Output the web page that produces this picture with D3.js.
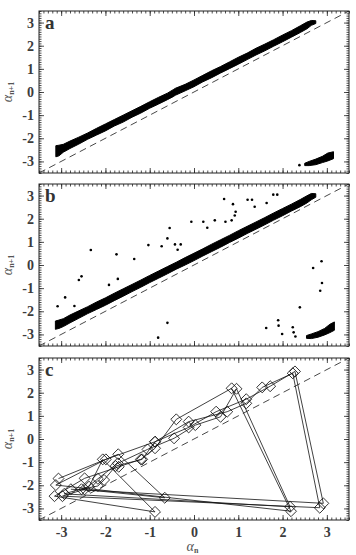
<!DOCTYPE html>
<html><head><meta charset="utf-8">
<script src="https://cdn.jsdelivr.net/npm/d3@7"></script>
<style>body{margin:0;background:#fff}svg{display:block}</style>
</head><body>
<script>
// ---------- data ----------
const majorTicks = [-3,-2,-1,0,1,2,3];
const tickLabels = ["-3","-2","-1","0","1","2","3"];
const panelLetters = ["a","b","c"];

// panel a: dense band (upper / lower edge)
const bandA_x  = [-3.12,-3.05,-2.95,-2.8,-2.6,-2.4,-2.2,-2.0,-1.8,-1.6,-1.4,-1.2,-1.0,-0.8,-0.6,-0.47,-0.42,-0.2,0,0.2,0.4,0.6,0.8,1.0,1.2,1.4,1.6,1.8,2.0,2.2,2.4,2.55,2.65,2.75];
const bandA_lo = [-2.80,-2.76,-2.60,-2.44,-2.25,-2.04,-1.86,-1.68,-1.47,-1.30,-1.09,-0.91,-0.70,-0.52,-0.33,-0.20,-0.14,0.05,0.23,0.44,0.62,0.82,1.01,1.20,1.40,1.60,1.78,1.98,2.17,2.37,2.57,2.73,2.88,2.96];
const bandA_hi = [-2.32,-2.30,-2.26,-2.12,-1.95,-1.77,-1.57,-1.38,-1.19,-1.00,-0.81,-0.62,-0.42,-0.23,-0.05,0.10,0.16,0.33,0.52,0.72,0.92,1.10,1.30,1.50,1.68,1.89,2.07,2.26,2.46,2.65,2.86,3.02,3.09,3.08];
const clusterA_x  = [2.50,2.6,2.75,2.9,3.02,3.15];
const clusterA_lo = [-3.18,-3.18,-3.14,-3.05,-2.98,-2.88];
const clusterA_hi = [-3.08,-3.00,-2.90,-2.78,-2.64,-2.58];
const strayA_x = [2.38];
const strayA_y = [-3.16];

// panel b: band, wrapped cluster and scattered points
const bandB_x  = [-3.13,-3.05,-2.95,-2.8,-2.6,-2.4,-2.2,-2.0,-1.8,-1.6,-1.4,-1.2,-1.0,-0.8,-0.6,-0.4,-0.2,0,0.2,0.4,0.6,0.8,1.0,1.2,1.4,1.6,1.8,2.0,2.2,2.4,2.55,2.65,2.75];
const bandB_lo = [-2.78,-2.74,-2.66,-2.50,-2.30,-2.10,-1.92,-1.74,-1.54,-1.35,-1.15,-0.96,-0.76,-0.57,-0.38,-0.18,0.00,0.19,0.39,0.58,0.77,0.97,1.16,1.36,1.55,1.74,1.94,2.13,2.33,2.52,2.68,2.82,2.93];
const bandB_hi = [-2.42,-2.38,-2.32,-2.16,-1.98,-1.80,-1.60,-1.42,-1.22,-1.03,-0.84,-0.65,-0.45,-0.26,-0.07,0.12,0.32,0.51,0.70,0.90,1.09,1.28,1.48,1.67,1.86,2.05,2.25,2.44,2.63,2.83,2.99,3.09,3.08];
const clusterB_x  = [2.54,2.65,2.8,2.95,3.07,3.17];
const clusterB_lo = [-3.17,-3.18,-3.12,-3.02,-2.92,-2.82];
const clusterB_hi = [-3.05,-2.98,-2.88,-2.74,-2.56,-2.46];
const outB_x = [-3.08,-2.91,-2.33,-2.60,-2.54,-2.70,-1.75,-1.35,-1.92,-1.72,-1.03,-0.81,-0.60,-0.73,-0.60,-0.55,-0.43,-0.30,-0.37,-0.06,0.21,0.30,0.47,0.68,0.71,0.88,0.94,0.92,0.85,1.21,1.31,1.37,1.64,1.79,1.88,1.63,1.90,1.91,1.99,2.23,2.25,2.29,2.39,2.69,2.88,2.89,2.85];
const outB_y = [-1.78,-1.40,0.65,-0.65,-0.49,-1.77,0.46,0.26,-0.86,-0.60,0.86,-3.14,-2.50,0.81,1.15,1.60,0.89,0.89,0.66,1.87,1.87,1.61,1.93,2.85,1.87,2.63,2.30,2.14,1.93,2.82,2.82,2.52,2.68,3.04,3.04,-2.72,-2.39,-2.62,-2.98,-2.69,-2.91,-3.09,-1.83,-0.13,0.16,-0.78,-1.11];

// panel c: trajectory alpha_n ; points are (alpha_n, alpha_n+1)
const alphaC = [-3.06,-1.71,-0.66,-2.54,-2.17,-2.03,-1.77,-1.17,-0.88,-0.12,0.75,1.18,1.54,2.23,2.84,-2.97,-2.47,-2.17,-1.72,-1.05,-0.45,0.03,0.60,0.96,2.17,-2.93,-2.37,-2.06,-0.88,-3.15,-2.47,-1.70,-1.20,-0.88,-0.40,0.85,2.19,-3.12,-1.99,-0.88,-0.12,0.50,1.18,1.72,2.28,2.92,-2.78,-2.17];

// ---------- drawing ----------
const W = 356, H = 555;
const L = 39, R = 349, PH = 162;
const tops = [11, 184, 358];
const svg = d3.select("body").append("svg").attr("width", W).attr("height", H);
const x = d3.scaleLinear().domain([-3.5, 3.5]).range([L, R]);
const minor = d3.range(-35, 36).map(d => d / 10);
const serif = "'Liberation Serif','DejaVu Serif',serif";
const labelColor = "#3c3c3c";

function zip(xs, lo, hi) { return xs.map((v, i) => ({x: v, lo: lo[i], hi: hi[i]})); }

tops.forEach((top, pi) => {
  const y = d3.scaleLinear().domain([-3.5, 3.5]).range([top + PH, top]);
  const g = svg.append("g");
  const clipId = "clip" + pi;
  g.append("clipPath").attr("id", clipId).append("rect")
    .attr("x", L).attr("y", top).attr("width", R - L).attr("height", PH);
  const plot = g.append("g").attr("clip-path", `url(#${clipId})`);

  // dashed diagonal y = x
  plot.append("line")
    .attr("x1", x(-3.5)).attr("y1", y(-3.5)).attr("x2", x(3.5)).attr("y2", y(3.5))
    .attr("stroke", "#333").attr("stroke-width", 0.9).attr("stroke-dasharray", "7,4.5");

  const area = d3.area().x(d => x(d.x)).y0(d => y(d.lo)).y1(d => y(d.hi));
  const drawBand = (xs, lo, hi) => plot.append("path").datum(zip(xs, lo, hi))
    .attr("d", area).attr("fill", "#000").attr("stroke", "#000").attr("stroke-width", 1)
    .attr("stroke-linejoin", "round");
  const drawDots = (xs, ys, r) => plot.selectAll(null).data(xs.map((v, i) => [v, ys[i]]))
    .enter().append("circle").attr("cx", d => x(d[0])).attr("cy", d => y(d[1])).attr("r", r).attr("fill", "#000");

  if (pi === 0) {
    drawBand(bandA_x, bandA_lo, bandA_hi);
    drawBand(clusterA_x, clusterA_lo, clusterA_hi);
    drawDots(strayA_x, strayA_y, 1.3);
  } else if (pi === 1) {
    drawBand(bandB_x, bandB_lo, bandB_hi);
    drawBand(clusterB_x, clusterB_lo, clusterB_hi);
    drawDots(outB_x, outB_y, 1.3);
  } else {
    const pts = alphaC.slice(0, -1).map((v, i) => [v, alphaC[i + 1]]);
    plot.append("path").datum(pts)
      .attr("d", d3.line().x(d => x(d[0])).y(d => y(d[1])))
      .attr("fill", "none").attr("stroke", "#111").attr("stroke-width", 0.8);
    plot.selectAll(null).data(pts).enter().append("path")
      .attr("d", d3.symbol(d3.symbolSquare, 60)())
      .attr("transform", d => `translate(${x(d[0])},${y(d[1])}) rotate(45)`)
      .attr("fill", "none").attr("stroke", "#111").attr("stroke-width", 0.8);
  }

  // axes: inward ticks on all four sides
  const styleAxis = sel => { sel.select(".domain").remove(); sel.selectAll("line").attr("stroke", "#222").attr("stroke-width", 0.8); };
  const left = d3.axisLeft(y).tickValues(majorTicks).tickSize(-5).tickPadding(5)
    .tickFormat((d, i) => tickLabels[i]);
  g.append("g").attr("transform", `translate(${L},0)`).call(left).call(styleAxis)
    .selectAll("text").attr("font-family", serif).attr("font-weight", "bold")
    .attr("font-size", 14).attr("fill", labelColor);
  g.append("g").attr("transform", `translate(${L},0)`)
    .call(d3.axisLeft(y).tickValues(minor).tickSize(-2.5).tickFormat("")).call(styleAxis);
  g.append("g").attr("transform", `translate(${R},0)`)
    .call(d3.axisRight(y).tickValues(majorTicks).tickSize(-5).tickFormat("")).call(styleAxis);
  g.append("g").attr("transform", `translate(${R},0)`)
    .call(d3.axisRight(y).tickValues(minor).tickSize(-2.5).tickFormat("")).call(styleAxis);
  g.append("g").attr("transform", `translate(0,${top})`)
    .call(d3.axisTop(x).tickValues(majorTicks).tickSize(-5).tickFormat("")).call(styleAxis);
  g.append("g").attr("transform", `translate(0,${top})`)
    .call(d3.axisTop(x).tickValues(minor).tickSize(-2.5).tickFormat("")).call(styleAxis);
  const bottom = d3.axisBottom(x).tickValues(majorTicks).tickSize(-5).tickPadding(7)
    .tickFormat(pi === 2 ? ((d, i) => tickLabels[i]) : "");
  const bg = g.append("g").attr("transform", `translate(0,${top + PH})`).call(bottom).call(styleAxis);
  bg.selectAll("text").attr("font-family", serif).attr("font-weight", "bold")
    .attr("font-size", 14).attr("fill", labelColor);
  g.append("g").attr("transform", `translate(0,${top + PH})`)
    .call(d3.axisBottom(x).tickValues(minor).tickSize(-2.5).tickFormat("")).call(styleAxis);

  // frame
  g.append("rect").attr("x", L).attr("y", top).attr("width", R - L).attr("height", PH)
    .attr("fill", "none").attr("stroke", "#222").attr("stroke-width", 1);

  // panel letter
  g.append("text").attr("x", 45).attr("y", top + 17.5).text(panelLetters[pi])
    .attr("font-family", serif).attr("font-weight", "bold").attr("font-size", 19).attr("fill", "#333");

  // y title
  const yt = g.append("text").attr("transform", `translate(12,${top + PH / 2}) rotate(-90)`)
    .attr("text-anchor", "middle").attr("font-family", serif).attr("fill", "#555");
  yt.append("tspan").attr("font-style", "italic").attr("font-size", 14).text("α");
  yt.append("tspan").attr("font-size", 8).attr("font-weight", "bold").attr("dy", 2).text("n+1");
});

// x title
const xt = svg.append("text").attr("x", 192.5).attr("y", 551).attr("text-anchor", "middle")
  .attr("font-family", serif).attr("fill", "#555");
xt.append("tspan").attr("font-style", "italic").attr("font-size", 14).text("α");
xt.append("tspan").attr("font-size", 8).attr("font-weight", "bold").attr("dy", 2).text("n");
</script>
</body></html>
